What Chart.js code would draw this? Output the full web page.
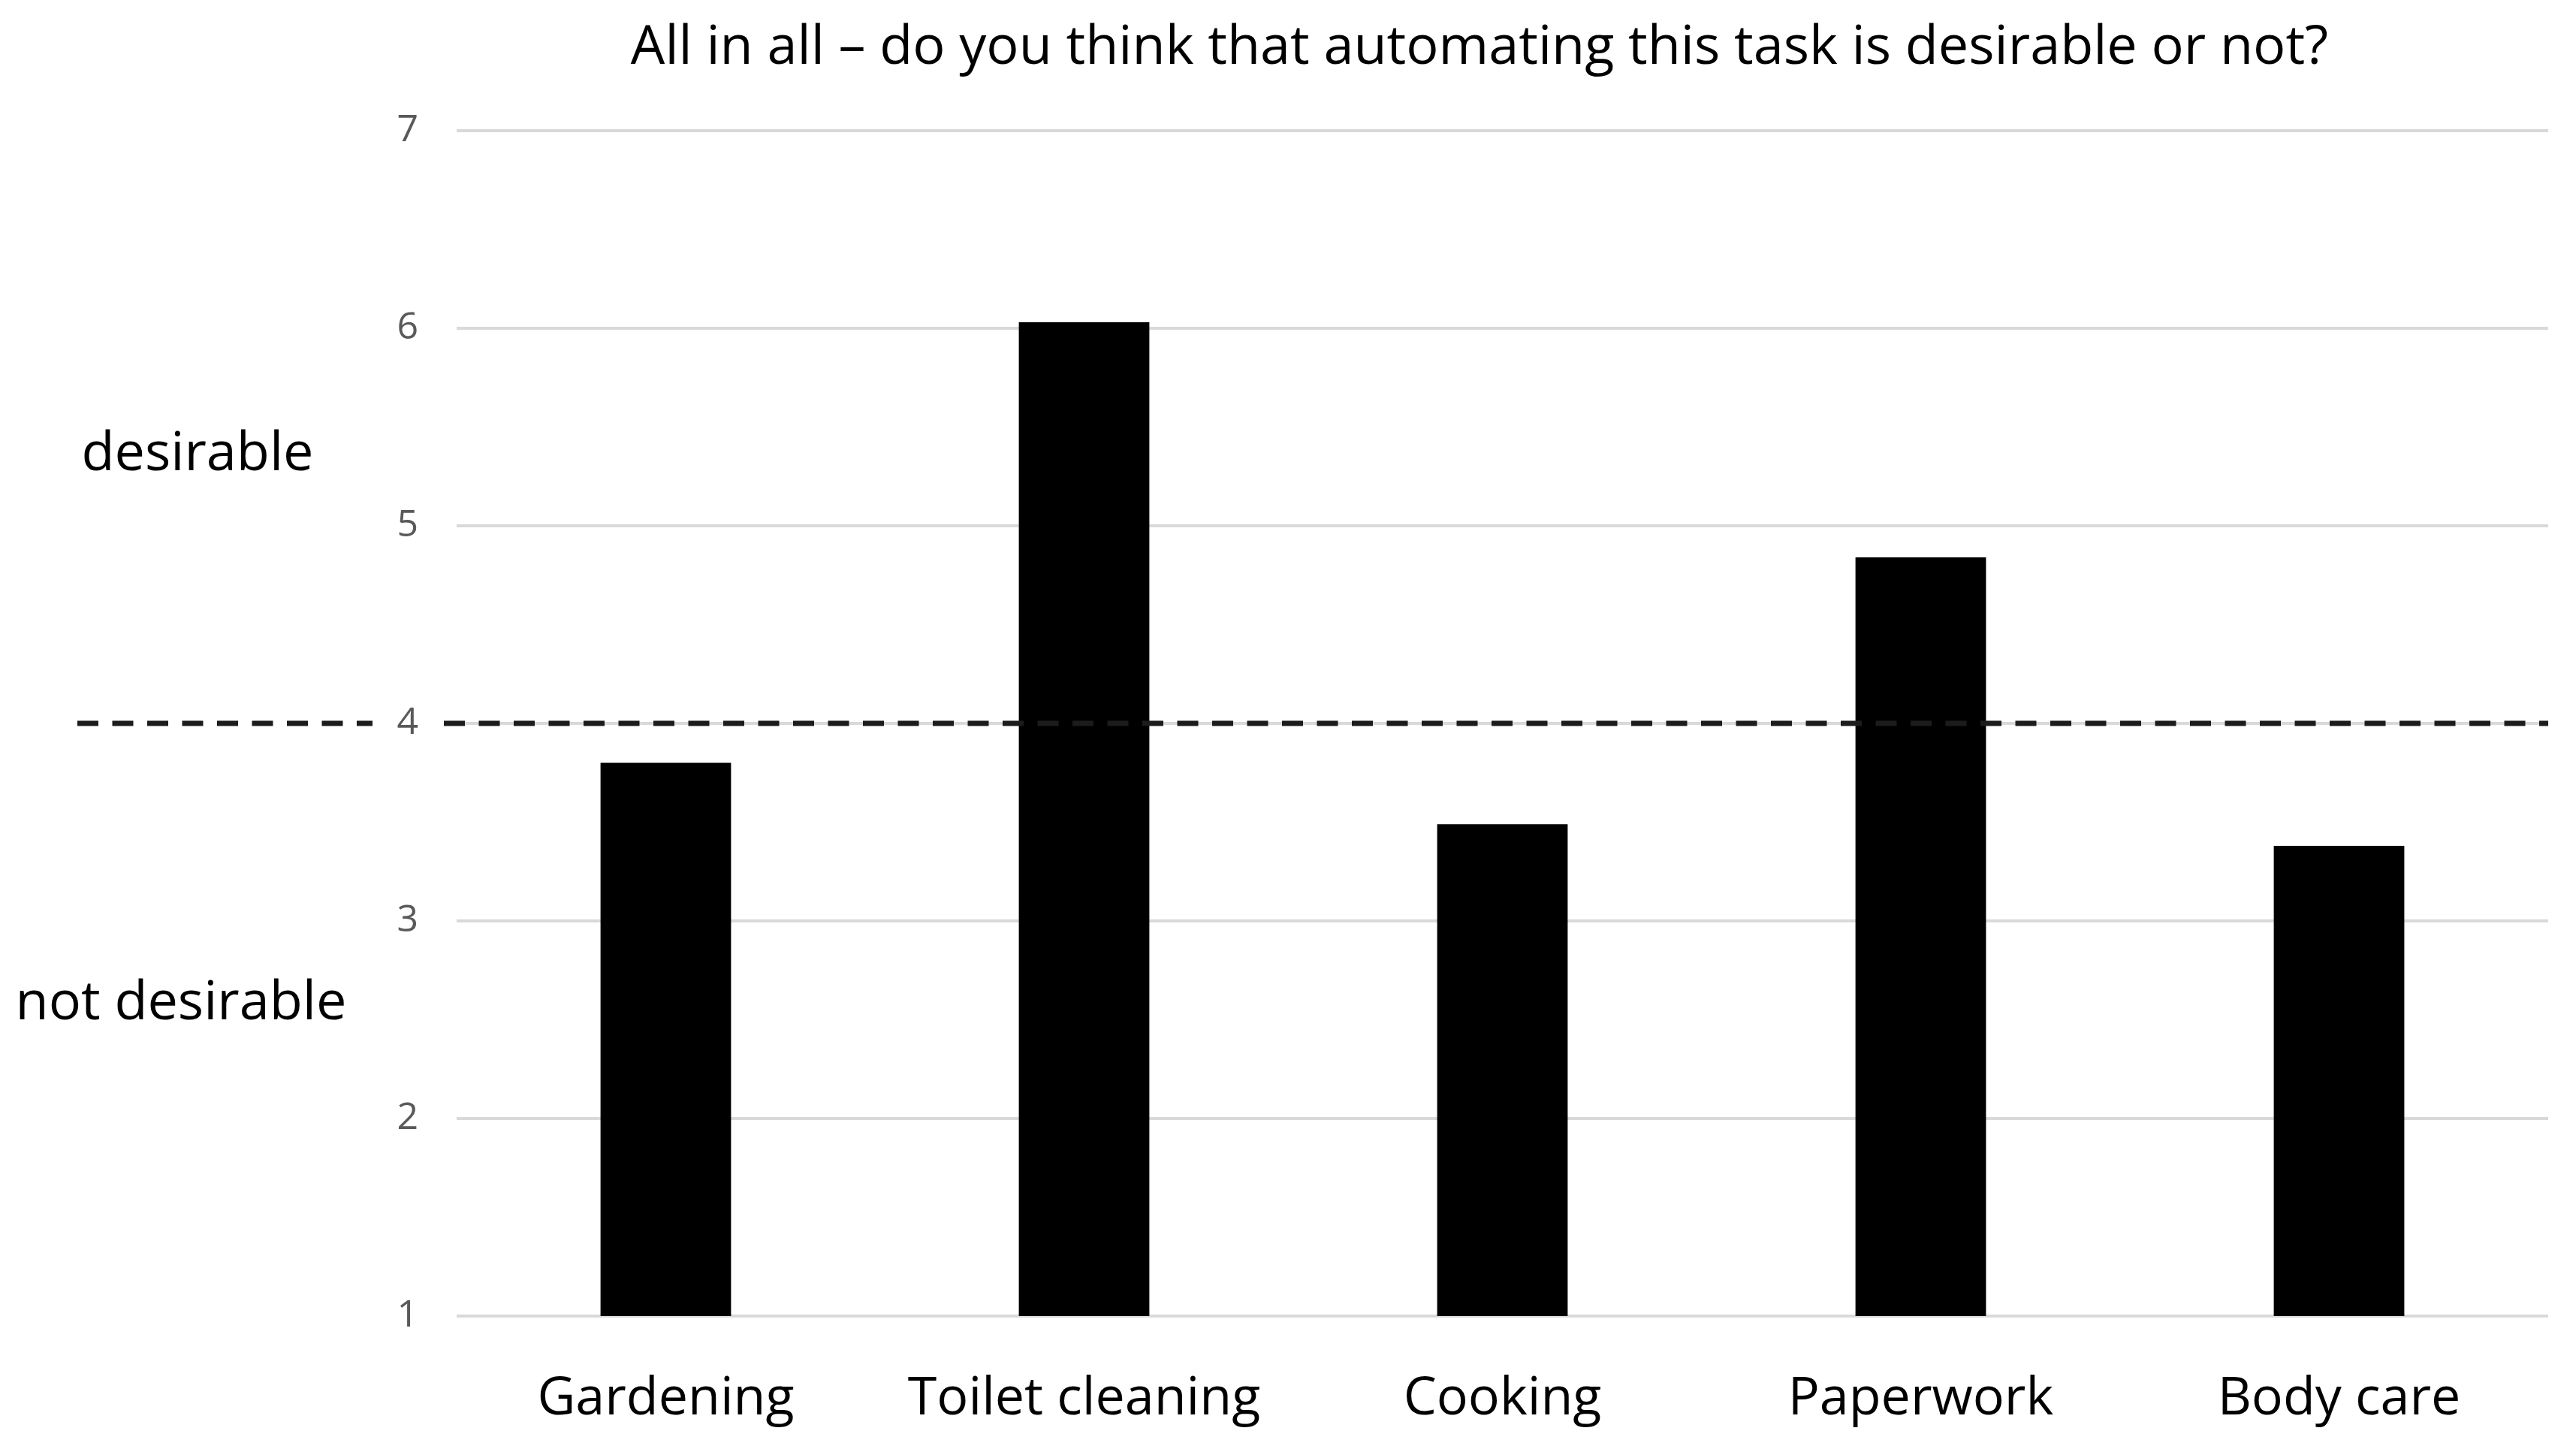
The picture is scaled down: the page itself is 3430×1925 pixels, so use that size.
<!DOCTYPE html>
<html>
<head>
    <title>Automating tasks - desirability</title>
    <script src="https://cdn.jsdelivr.net/npm/chart.js"></script>
    <style>
        html, body { margin: 0; padding: 0; background: #fff; }
        #wrap { width: 3430px; height: 1925px; }
    </style>
</head>
<body>
    <div id="wrap"><canvas id="chart" width="3430" height="1925"></canvas></div>

    <script>
        const titleText = 'All in all \u2013 do you think that automating this task is desirable or not?';
        const tasks = ['Gardening', 'Toilet cleaning', 'Cooking', 'Paperwork', 'Body care'];
        const ratings = [3.80, 6.03, 3.49, 4.84, 3.38];
        const yTicks = [1, 2, 3, 4, 5, 6, 7];
        const threshold = 4;
        const sideLabels = [
            { text: 'desirable', value: 5.36, x: 263 },
            { text: 'not desirable', value: 2.58, x: 241 }
        ];

        const FONT = '"Open Sans", "DejaVu Sans", sans-serif';

        // title, dashed midpoint line and the two side captions
        const extras = {
            id: 'extras',
            afterDatasetsDraw(chart) {
                const { ctx, chartArea, scales } = chart;
                const y = scales.y.getPixelForValue(threshold);
                ctx.save();
                ctx.strokeStyle = '#1c1c1c';
                ctx.lineWidth = 7;
                ctx.setLineDash([28, 18.5]);
                ctx.beginPath();
                ctx.moveTo(103, y);
                ctx.lineTo(496, y);
                ctx.moveTo(591, y);
                ctx.lineTo(chartArea.right, y);
                ctx.stroke();
                ctx.setLineDash([]);

                ctx.fillStyle = '#000';
                ctx.textAlign = 'center';
                ctx.textBaseline = 'middle';
                ctx.font = '72px ' + FONT;
                ctx.fillText(titleText, 1970, 64);

                sideLabels.forEach(l => {
                    ctx.fillText(l.text, l.x, scales.y.getPixelForValue(l.value));
                });
                ctx.restore();
            }
        };

        const ctx = document.getElementById('chart').getContext('2d');
        const chart = new Chart(ctx, {
            type: 'bar',
            data: {
                labels: tasks,
                datasets: [{
                    data: ratings,
                    backgroundColor: '#000',
                    borderWidth: 0,
                    barPercentage: 0.312,
                    categoryPercentage: 1.0
                }]
            },
            options: {
                responsive: false,
                animation: false,
                layout: { padding: { top: 174, right: 37, bottom: 0, left: 0 } },
                plugins: {
                    legend: { display: false },
                    tooltip: { enabled: false }
                },
                scales: {
                    x: {
                        afterFit: scale => { scale.height = 173; },
                        grid: { display: false, drawTicks: false },
                        border: { display: false },
                        ticks: {
                            color: '#000',
                            padding: 69,
                            maxRotation: 0,
                            font: { family: FONT, size: 70 }
                        }
                    },
                    y: {
                        min: 1,
                        max: 7,
                        afterBuildTicks: scale => { scale.ticks = yTicks.map(v => ({ value: v })); },
                        afterFit: scale => { scale.width = 608; },
                        grid: { color: '#d9d9d9', lineWidth: 4, drawTicks: false },
                        border: { display: false },
                        ticks: {
                            color: '#595959',
                            padding: 51,
                            font: { family: FONT, size: 50 }
                        }
                    }
                }
            },
            plugins: [extras]
        });
    </script>
</body>
</html>
